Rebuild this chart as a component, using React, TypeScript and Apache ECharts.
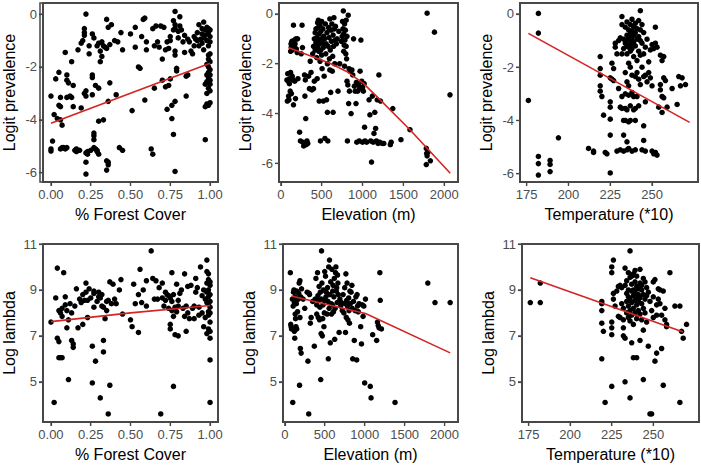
import React, { useEffect, useRef } from "react";
import * as echarts from "echarts";

const forestTicks = [0, 0.25, 0.5, 0.75, 1];
const elevTicks = [0, 500, 1000, 1500, 2000];
const tempTicks = [175, 200, 225, 250];
const logitTicks = [-6, -4, -2, 0];
const lambdaTicks = [5, 7, 9, 11];

const xTitles = ["% Forest Cover", "Elevation (m)", "Temperature (*10)"];
const yTitles = ["Logit prevalence", "Log lambda"];

const forestLogit: number[][] = [
  [0.0,-3.1],[0.0,-5.1],[0.0,-5.18],[0.01,-4.8],[0.02,-3.8],[0.03,-2.45],[0.04,-3.95],[0.05,-2.2],[0.05,-3.45],[0.06,-3.5],
  [0.06,-3.15],[0.06,-4.0],[0.07,-4.2],[0.07,-5.05],[0.06,-5.1],[0.08,-5.05],[0.09,-5.1],[0.1,-5.05],[0.09,-1.45],[0.1,-2.3],
  [0.1,-2.5],[0.11,-2.6],[0.1,-3.15],[0.12,-3.1],[0.13,-3.15],[0.13,-1.8],[0.14,-3.5],[0.14,-2.7],[0.15,-5.15],[0.16,-5.2],
  [0.16,-5.1],[0.17,-1.35],[0.18,-5.15],[0.19,-3.55],[0.19,-1.1],[0.2,-1.0],[0.21,-0.7],[0.21,-0.55],[0.21,-0.8],[0.21,-3.0],
  [0.22,-3.1],[0.22,-2.9],[0.22,0.0],[0.22,-5.25],[0.22,-5.6],[0.22,-6.05],[0.23,-5.3],[0.23,-5.2],[0.24,-1.5],[0.24,-1.2],
  [0.25,-5.15],[0.26,-2.3],[0.26,-2.4],[0.26,-0.75],[0.27,-0.9],[0.26,-3.05],[0.27,-4.6],[0.27,-4.5],[0.27,-4.75],[0.27,-5.05],
  [0.28,-2.7],[0.28,-5.1],[0.29,-5.2],[0.29,-5.15],[0.3,-5.3],[0.29,-1.2],[0.3,-1.1],[0.31,-1.4],[0.31,-1.8],[0.3,-2.8],
  [0.3,-4.05],[0.32,-1.05],[0.32,-1.6],[0.33,-1.2],[0.33,-4.0],[0.34,-1.25],[0.35,-1.3],[0.35,-0.2],[0.36,-0.5],[0.35,-5.55],
  [0.36,-5.6],[0.35,-5.9],[0.36,-5.7],[0.36,-3.3],[0.37,-2.6],[0.37,-1.15],[0.38,-0.4],[0.4,-1.0],[0.41,-3.05],[0.42,-1.05],
  [0.43,-5.05],[0.44,-0.7],[0.45,-1.35],[0.45,-5.15],[0.5,-0.75],[0.51,-3.65],[0.53,-1.25],[0.53,-0.5],[0.55,-2.0],[0.56,-2.05],
  [0.57,-0.85],[0.58,-0.2],[0.59,-0.15],[0.59,-3.25],[0.6,-1.05],[0.6,-1.35],[0.63,-5.1],[0.64,-5.3],[0.64,-0.55],[0.65,-1.2],
  [0.65,-2.8],[0.66,-0.45],[0.67,-1.05],[0.68,-1.25],[0.69,-0.45],[0.7,-2.5],[0.7,-1.7],[0.71,-0.5],[0.72,-1.35],[0.72,-2.75],
  [0.73,-1.05],[0.73,-3.6],[0.74,-2.7],[0.74,-1.3],[0.75,-0.85],[0.75,-1.0],[0.75,-2.45],[0.76,-3.45],[0.76,-3.95],[0.77,-0.6],
  [0.77,-4.55],[0.77,-0.25],[0.78,0.1],[0.78,-0.4],[0.78,-0.55],[0.78,-1.55],[0.78,-1.4],[0.78,-3.3],[0.78,-5.95],[0.79,-2.15],
  [0.79,-2.05],[0.8,-0.9],[0.8,-0.65],[0.81,-0.45],[0.81,-0.1],[0.82,-0.6],[0.83,-1.05],[0.84,-1.45],[0.84,-0.8],[0.85,-2.35],
  [0.85,-3.1],[0.86,-2.3],[0.86,-0.95],[0.87,-1.05],[0.88,-1.4],[0.89,-1.5],[0.9,-0.85],[0.9,-1.2],[0.91,-0.95],[0.92,-0.7],
  [0.92,-1.0],[0.93,-0.4],[0.93,-1.2],[0.94,-0.95],[0.95,-0.55],[0.95,-0.75],[0.95,-1.1],[0.96,-0.3],[0.96,-0.9],[0.96,-1.35],
  [0.97,-0.6],[0.97,-0.8],[0.97,-4.75],[0.97,-2.65],[0.97,-3.5],[0.98,-0.5],[0.98,-1.0],[0.98,-2.3],[0.98,-2.55],[0.98,-3.0],
  [0.98,-3.4],[0.99,-0.55],[0.99,-0.7],[0.99,-1.2],[0.99,-1.55],[0.99,-1.7],[0.99,-2.0],[0.99,-2.2],[0.99,-2.4],[0.99,-2.8],
  [0.99,-3.45],[1.0,-0.6],[1.0,-0.85],[1.0,-1.05],[1.0,-1.5],[1.0,-1.8],[1.0,-2.1],[1.0,-2.5],[1.0,-2.65],[1.0,-2.9],
  [1.0,-3.35],[0.98,-1.9],[1.0,-2.3]
];

const elevLogit: number[][] = [
  [75,-2.65],[80,-3.5],[85,-2.4],[90,-2.7],[95,-3.3],[100,-3.45],[105,-2.8],[110,-2.6],[115,-3.1],[120,-1.5],
  [120,-2.35],[125,-1.2],[130,-1.3],[130,-3.2],[135,-1.1],[140,-1.45],[140,-2.5],[145,-1.25],[150,-1.15],[150,-2.65],
  [155,-0.45],[155,-3.65],[160,-1.3],[165,-1.05],[170,-2.7],[175,-1.2],[180,-3.4],[185,-1.0],[190,-1.4],[200,-1.55],
  [205,-1.0],[210,-2.6],[230,-4.75],[240,-5.1],[250,-1.6],[260,-0.45],[265,-1.35],[270,-5.15],[280,-5.3],[290,-2.45],
  [295,-3.3],[300,-2.65],[305,-4.2],[310,-5.25],[320,-5.1],[330,-5.2],[340,-2.5],[350,-3.0],[360,-1.9],[370,-2.35],
  [380,-3.05],[390,-1.6],[400,-1.3],[400,-3.0],[410,-1.0],[410,-2.7],[420,-0.75],[420,-1.45],[430,-0.6],[430,-1.15],
  [440,-0.95],[440,-1.75],[445,-2.6],[450,-0.35],[450,-1.3],[455,-0.55],[460,-0.25],[460,-1.05],[465,-1.5],[470,-0.8],
  [470,-3.5],[475,-1.2],[480,-0.45],[480,-1.9],[485,-5.1],[490,-0.7],[490,-1.45],[495,-1.0],[500,-1.65],[500,-0.3],
  [505,-2.2],[510,-1.15],[515,-0.6],[520,-1.35],[520,-3.5],[525,-0.9],[530,-2.5],[535,-1.0],[540,-5.0],[545,-0.4],
  [550,-1.6],[555,-1.2],[560,-3.45],[565,-0.75],[570,-2.0],[570,-3.95],[575,-5.1],[580,-1.3],[585,-0.55],[590,-0.95],
  [595,-1.8],[600,-0.2],[600,-2.25],[605,-1.45],[610,-3.15],[615,-0.65],[620,-1.1],[625,-0.4],[630,-2.3],[635,-1.7],
  [640,-0.85],[640,-3.95],[645,-1.3],[650,-0.15],[655,-0.6],[660,-2.0],[665,-1.05],[670,-0.5],[680,-1.2],[690,-1.0],
  [700,-3.1],[710,-0.7],[720,-2.0],[740,-1.1],[750,-0.9],[755,-0.3],[760,-0.6],[765,0.12],[770,-1.5],[770,-0.8],
  [775,-1.25],[780,-0.4],[780,-2.1],[785,-1.05],[790,-0.65],[795,-1.6],[800,-0.25],[800,-1.3],[805,-1.8],[810,-0.9],
  [810,-2.7],[815,-5.1],[820,-2.85],[825,-0.05],[830,-3.6],[835,-2.2],[840,-3.1],[850,-2.3],[860,-4.0],[870,-2.25],
  [880,-2.45],[890,-1.0],[900,-2.9],[910,-3.1],[920,-3.6],[925,-2.75],[930,-5.15],[940,-3.1],[950,-2.85],[960,-5.1],
  [965,-3.0],[970,-2.3],[980,-1.05],[990,-2.7],[1000,-2.95],[1000,-5.15],[1010,-3.1],[1020,-2.8],[1025,-4.55],[1030,-5.1],
  [1050,-5.15],[1080,-3.45],[1090,-4.05],[1100,-5.1],[1110,-5.95],[1120,-3.3],[1130,-5.15],[1140,-4.8],[1150,-3.95],[1160,-4.6],
  [1170,-5.1],[1180,-3.45],[1190,-5.2],[1200,-2.45],[1210,-5.15],[1220,-3.5],[1240,-5.2],[1260,-5.2],[1340,-5.25],[1350,-5.15],
  [1370,-3.8],[1470,-5.05],[1580,-4.65],[1780,-5.4],[1785,-5.6],[1790,-5.7],[1780,-6.05],[1800,-5.55],[1830,-5.9],[1790,0.03],
  [1880,-0.73],[2070,-3.25]
];

const tempLogit: number[][] = [
  [176,-3.25],[182,0.02],[182,-0.72],[182,-5.35],[182,-5.62],[182,-6.05],[189,-5.5],[189,-5.65],[189,-5.92],[194,-4.65],
  [212,-5.05],[215,-5.15],[215,-5.2],[219,-1.6],[219,-2.05],[219,-2.3],[219,-2.7],[219,-2.9],[220,-3.1],[221,-3.8],
  [222,-5.2],[223,-5.25],[225,-2.4],[225,-3.3],[225,-3.5],[225,-3.95],[225,-4.55],[225,-5.97],[226,-2.45],[226,-1.85],
  [227,-2.05],[227,-2.5],[228,-1.1],[228,-1.25],[229,-1.5],[229,-5.15],[230,-1.0],[230,-2.8],[231,-0.9],[231,-3.5],
  [231,-5.1],[232,-0.1],[232,-0.4],[232,-1.5],[232,-3.1],[232,-3.55],[233,-0.95],[233,-1.3],[233,-4.0],[233,-4.55],
  [233,-5.15],[234,-0.5],[234,-1.1],[234,-2.2],[234,-3.0],[234,-3.55],[234,-4.0],[235,-0.3],[235,-0.8],[235,-1.0],
  [235,-1.2],[235,-1.5],[235,-2.55],[235,-3.6],[235,-4.8],[235,-5.1],[236,-0.6],[236,-0.9],[236,-1.25],[236,-1.85],
  [236,-2.7],[236,-3.05],[236,-4.05],[236,-5.05],[237,-0.4],[237,-0.75],[237,-1.0],[237,-1.15],[237,-1.4],[237,-2.0],
  [237,-3.45],[237,-4.0],[238,-0.2],[238,-0.65],[238,-0.9],[238,-1.1],[238,-1.3],[238,-2.3],[238,-2.95],[238,-5.15],
  [239,-0.5],[239,-0.8],[239,-1.05],[239,-1.6],[239,-3.1],[239,-3.6],[240,-0.35],[240,-0.7],[240,-1.2],[240,-2.35],
  [240,-3.55],[240,-4.0],[240,-5.1],[241,-0.55],[241,-0.95],[241,-1.75],[241,-2.2],[241,-3.1],[242,-0.25],[242,-0.85],
  [242,-1.4],[242,-2.45],[242,-3.45],[243,0.12],[243,-0.6],[243,-1.0],[243,-1.55],[243,-2.65],[244,-0.4],[244,-1.1],
  [244,-2.0],[244,-5.1],[245,-0.7],[245,-1.5],[245,-2.35],[245,-4.2],[245,-4.75],[246,-1.25],[246,-2.3],[246,-3.3],
  [246,-5.15],[247,-0.95],[247,-2.55],[248,-2.2],[248,-1.8],[249,-2.4],[249,-1.35],[250,-1.15],[250,-2.7],[250,-5.15],
  [251,-1.3],[251,-5.25],[252,-1.1],[252,-0.5],[252,-5.2],[253,-1.25],[253,-5.3],[254,-3.5],[255,-1.55],[255,-2.65],
  [255,-2.85],[256,-3.1],[256,-3.7],[256,-1.75],[257,-1.6],[257,-2.4],[257,-3.15],[258,-2.5],[259,-3.5],[262,-2.8],
  [265,-3.4],[266,-2.35],[267,-2.7],[268,-2.4],[270,-2.65]
];

const forestLambda: number[][] = [
  [0.0,7.6],[0.02,4.1],[0.03,8.65],[0.04,9.95],[0.04,6.9],[0.05,6.75],[0.05,8.1],[0.05,6.05],[0.06,8.0],[0.06,6.05],
  [0.07,8.2],[0.07,7.85],[0.07,6.05],[0.08,9.75],[0.09,8.7],[0.09,8.35],[0.1,8.1],[0.1,7.35],[0.11,5.1],[0.11,7.7],
  [0.12,8.4],[0.13,6.8],[0.13,8.0],[0.14,6.65],[0.14,6.5],[0.15,8.3],[0.16,9.05],[0.17,7.35],[0.18,8.6],[0.19,8.45],
  [0.2,8.8],[0.2,7.5],[0.21,8.55],[0.22,9.3],[0.22,8.9],[0.23,8.55],[0.23,7.8],[0.24,9.05],[0.25,8.65],[0.26,6.55],
  [0.26,4.95],[0.27,8.95],[0.27,8.85],[0.27,8.25],[0.28,5.9],[0.29,8.5],[0.3,8.9],[0.3,8.7],[0.31,4.3],[0.31,8.65],
  [0.32,8.3],[0.32,8.8],[0.33,6.3],[0.33,8.25],[0.33,6.8],[0.34,7.75],[0.35,8.5],[0.35,8.1],[0.36,8.55],[0.36,3.6],
  [0.37,9.35],[0.37,4.85],[0.38,8.4],[0.39,9.25],[0.4,8.6],[0.41,8.4],[0.43,9.0],[0.44,9.45],[0.45,7.95],[0.5,7.7],
  [0.51,7.4],[0.52,9.25],[0.53,8.4],[0.55,8.8],[0.55,7.15],[0.56,9.9],[0.57,8.45],[0.58,9.0],[0.6,9.4],[0.6,8.3],
  [0.63,10.7],[0.64,9.5],[0.65,8.6],[0.66,9.4],[0.67,8.6],[0.68,9.1],[0.69,3.6],[0.7,9.3],[0.7,8.65],[0.71,8.3],
  [0.72,8.9],[0.72,8.55],[0.73,8.8],[0.74,8.2],[0.74,8.75],[0.75,7.5],[0.75,8.65],[0.75,7.3],[0.76,9.75],[0.76,8.1],
  [0.76,8.5],[0.77,8.8],[0.77,4.8],[0.77,7.85],[0.78,8.25],[0.78,7.05],[0.79,9.25],[0.79,8.05],[0.8,8.55],[0.8,7.0],
  [0.8,8.3],[0.81,8.85],[0.82,9.0],[0.83,8.2],[0.84,7.85],[0.84,9.7],[0.85,7.2],[0.85,8.3],[0.86,9.15],[0.86,8.0],
  [0.87,7.75],[0.88,9.2],[0.89,8.2],[0.9,7.75],[0.9,8.3],[0.91,9.5],[0.91,8.9],[0.92,9.1],[0.93,8.25],[0.93,7.9],
  [0.94,10.0],[0.95,8.75],[0.95,8.0],[0.96,7.4],[0.96,9.0],[0.97,8.6],[0.97,7.8],[0.98,10.3],[0.98,9.8],[0.98,9.3],
  [0.98,8.9],[0.98,7.1],[0.99,9.7],[0.99,9.45],[0.99,9.0],[0.99,8.7],[0.99,8.4],[0.99,7.3],[0.99,7.9],[1.0,9.2],
  [1.0,8.8],[1.0,8.5],[1.0,8.25],[1.0,8.0],[1.0,7.6],[1.0,7.2],[1.0,6.9],[1.0,5.95],[1.0,4.1],[0.99,8.05],
  [0.98,8.45],[1.0,9.35]
];

const elevLambda: number[][] = [
  [70,9.75],[75,7.5],[80,7.4],[85,7.3],[95,8.6],[100,4.1],[105,8.3],[110,8.9],[115,9.0],[120,8.45],
  [120,7.2],[125,6.9],[130,8.7],[130,7.95],[135,7.75],[140,7.4],[145,8.4],[150,8.95],[150,7.3],[155,8.6],
  [160,8.05],[170,8.6],[175,8.85],[180,9.3],[185,4.85],[190,9.4],[190,7.8],[195,6.45],[200,8.7],[205,6.25],
  [210,9.05],[230,8.6],[250,8.2],[280,8.9],[290,5.9],[300,3.6],[305,8.85],[310,8.8],[320,7.55],[330,7.8],
  [350,8.5],[370,6.55],[380,8.6],[390,9.5],[400,8.35],[400,7.95],[410,9.75],[415,8.75],[420,7.8],[425,8.55],
  [430,9.15],[435,7.7],[440,8.25],[445,8.9],[450,5.1],[455,7.1],[460,10.7],[460,8.6],[465,9.3],[470,7.0],
  [475,7.75],[480,8.35],[485,9.0],[490,7.4],[495,8.0],[500,8.55],[500,9.8],[510,9.6],[515,8.7],[520,8.9],
  [530,7.95],[535,9.1],[540,8.5],[545,6.0],[550,10.0],[555,8.2],[560,10.3],[565,8.8],[570,6.7],[575,9.35],
  [580,8.4],[585,7.95],[590,9.9],[595,8.35],[600,8.95],[605,9.2],[610,8.05],[615,8.7],[620,9.5],[625,6.85],
  [630,8.2],[635,9.75],[640,10.0],[645,8.95],[650,9.1],[655,8.45],[660,9.65],[665,9.3],[670,8.8],[680,7.15],
  [690,8.6],[700,8.3],[710,8.45],[720,8.1],[730,8.8],[740,8.0],[750,9.1],[755,8.4],[760,7.15],[765,9.7],
  [770,7.8],[775,8.55],[780,9.3],[785,8.3],[790,7.7],[800,8.65],[805,8.1],[810,7.55],[815,8.95],[820,8.4],
  [830,8.9],[840,9.2],[845,8.2],[850,6.0],[860,8.5],[870,6.8],[880,8.1],[890,8.7],[900,5.95],[905,8.8],
  [910,8.3],[920,8.05],[930,8.4],[950,7.4],[960,6.65],[970,8.35],[980,7.85],[990,8.3],[1000,4.95],[1010,8.6],
  [1070,4.8],[1080,4.3],[1100,7.05],[1150,6.8],[1160,7.6],[1170,7.45],[1180,7.35],[1190,9.75],[1195,8.55],[1210,7.3],
  [1380,4.1],[1790,9.3],[1880,8.45],[2070,8.45]
];

const tempLambda: number[][] = [
  [176,8.45],[182,9.3],[182,8.45],[219,8.4],[219,8.5],[219,8.1],[219,7.55],[219,6.0],[220,7.2],[221,4.1],
  [225,9.75],[225,10.0],[225,7.6],[225,7.35],[225,7.05],[225,4.8],[226,10.3],[226,8.6],[226,8.85],[227,8.3],
  [228,8.95],[229,9.15],[229,7.85],[230,9.2],[230,7.8],[231,8.4],[231,9.1],[232,8.2],[232,7.7],[232,7.35],
  [232,7.0],[233,9.95],[233,9.2],[233,6.9],[233,5.0],[234,8.85],[234,8.5],[234,8.0],[234,9.4],[235,9.0],
  [235,8.7],[235,8.3],[235,7.8],[235,9.75],[236,10.7],[236,9.55],[236,8.6],[236,8.1],[236,7.65],[236,4.3],
  [237,9.25],[237,8.95],[237,8.45],[237,7.9],[237,6.7],[238,9.7],[238,9.0],[238,8.75],[238,8.2],[238,7.5],
  [238,6.05],[239,9.35],[239,8.9],[239,8.55],[239,8.0],[240,9.6],[240,9.15],[240,8.7],[240,8.35],[240,7.75],
  [240,6.05],[241,9.05],[241,8.8],[241,8.5],[241,8.1],[242,9.9],[242,9.3],[242,8.65],[242,7.95],[242,6.8],
  [243,9.0],[243,8.4],[243,7.7],[243,9.2],[244,8.8],[244,8.2],[244,7.25],[244,5.1],[245,9.35],[245,8.6],
  [245,8.0],[246,8.75],[246,7.6],[247,6.55],[247,8.9],[248,8.5],[248,3.6],[249,3.6],[249,8.1],[250,8.7],
  [250,7.8],[250,9.35],[251,9.45],[251,5.9],[252,8.35],[252,7.9],[252,6.25],[253,9.05],[253,8.6],[254,9.0],
  [254,8.4],[255,6.45],[255,7.9],[256,4.85],[256,8.95],[257,7.7],[257,8.2],[258,7.4],[258,7.5],[260,9.75],
  [263,8.3],[266,8.3],[266,4.1],[267,7.2],[268,6.9],[270,7.5],[246,9.1],[244,9.5],[239,9.85],[237,9.6]
];

const forestLogitFit: number[][] = [[0, -4.13], [1, -1.86]];
const elevLogitFit: number[][] = [[90, -1.35], [600, -1.98], [800, -2.3], [1010, -2.79], [1200, -3.4], [1583, -4.66], [2073, -6.4]];
const tempLogitFit: number[][] = [[176, -0.73], [272.5, -4.07]];
const forestLambdaFit: number[][] = [[0, 7.62], [0.5, 8.0], [1, 8.32]];
const elevLambdaFit: number[][] = [[85, 8.74], [500, 8.39], [1011, 7.97], [2070, 6.26]];
const tempLambdaFit: number[][] = [[176, 9.53], [268, 7.17]];

const FONT = "Liberation Sans, Arial, sans-serif";
const FRAME = "#474747";

export default function App() {
  const ref = useRef<HTMLDivElement>(null);
  useEffect(() => {
    if (!ref.current) return;
    const chart = echarts.init(ref.current, undefined, { renderer: "svg" });

    const boxes = [
      { left: 40, top: 3, width: 178, height: 179 },
      { left: 279, top: 3, width: 179, height: 179 },
      { left: 520, top: 3, width: 178, height: 179 },
      { left: 43, top: 244, width: 175, height: 178 },
      { left: 283, top: 244, width: 175, height: 178 },
      { left: 522, top: 244, width: 177, height: 178 },
    ];
    const grids = boxes.map((g) => ({ ...g, show: true, borderColor: FRAME, borderWidth: 1.5, backgroundColor: "rgba(0,0,0,0)" }));

    const xCfg = [
      { min: -0.05, max: 1.05, ticks: forestTicks, fmt: (v: number) => v.toFixed(2), title: xTitles[0] },
      { min: -22, max: 2168, ticks: elevTicks, fmt: (v: number) => String(v), title: xTitles[1] },
      { min: 171, max: 277.5, ticks: tempTicks, fmt: (v: number) => String(v), title: xTitles[2] },
    ];
    const yCfg = [
      { min: -6.35, max: 0.42, ticks: logitTicks, title: yTitles[0] },
      { min: -6.75, max: 0.44, ticks: logitTicks, title: yTitles[0] },
      { min: -6.31, max: 0.41, ticks: logitTicks, title: yTitles[0] },
      { min: 3.25, max: 11.0, ticks: lambdaTicks, title: yTitles[1] },
      { min: 3.25, max: 11.0, ticks: lambdaTicks, title: yTitles[1] },
      { min: 3.25, max: 11.0, ticks: lambdaTicks, title: yTitles[1] },
    ];

    const xAxis: any[] = [];
    const yAxis: any[] = [];
    grids.forEach((_, i) => {
      const c = xCfg[i % 3];
      xAxis.push({
        type: "value",
        gridIndex: i,
        position: "bottom",
        min: c.min,
        max: c.max,
        name: c.title,
        nameLocation: "middle",
        nameGap: 24,
        nameTextStyle: { fontSize: 16, color: "#000", fontFamily: FONT },
        axisLine: { show: true, onZero: false, lineStyle: { color: FRAME, width: 1.5 } },
        splitLine: { show: false },
        axisTick: { show: true, inside: false, length: 4, customValues: c.ticks, lineStyle: { color: FRAME, width: 1.2 } },
        axisLabel: { customValues: c.ticks, formatter: c.fmt, color: "#4d4d4d", fontSize: 13, margin: 6, fontFamily: FONT },
      });
      const y = yCfg[i];
      yAxis.push({
        type: "value",
        gridIndex: i,
        position: "left",
        min: y.min,
        max: y.max,
        name: y.title,
        nameLocation: "middle",
        nameGap: 26,
        nameTextStyle: { fontSize: 16, color: "#000", fontFamily: FONT },
        axisLine: { show: true, onZero: false, lineStyle: { color: FRAME, width: 1.5 } },
        splitLine: { show: false },
        axisTick: { show: true, inside: false, length: 4, customValues: y.ticks, lineStyle: { color: FRAME, width: 1.2 } },
        axisLabel: { customValues: y.ticks, color: "#4d4d4d", fontSize: 13, margin: 6, fontFamily: FONT },
      });
    });

    const pts = [forestLogit, elevLogit, tempLogit, forestLambda, elevLambda, tempLambda];
    const fits = [forestLogitFit, elevLogitFit, tempLogitFit, forestLambdaFit, elevLambdaFit, tempLambdaFit];
    const series: any[] = [];

    // frames and ticks as filled slivers, placed through each panel's own scales
    grids.forEach((_, i) => {
      const c = xCfg[i % 3];
      const y = yCfg[i];
      series.push({
        type: "custom",
        xAxisIndex: i,
        yAxisIndex: i,
        data: [[c.min, y.min]],
        clip: false,
        silent: true,
        z: 5,
        renderItem: (_p: any, api: any) => {
          const bl = api.coord([c.min, y.min]);
          const tr = api.coord([c.max, y.max]);
          const w = 1.5;
          const st = { fill: FRAME, stroke: null };
          const kids: any[] = [
            { type: "rect", shape: { x: bl[0] - w / 2, y: tr[1] - w / 2, width: w, height: bl[1] - tr[1] + w }, style: st },
            { type: "rect", shape: { x: tr[0] - w / 2, y: tr[1] - w / 2, width: w, height: bl[1] - tr[1] + w }, style: st },
            { type: "rect", shape: { x: bl[0] - w / 2, y: tr[1] - w / 2, width: tr[0] - bl[0] + w, height: w }, style: st },
            { type: "rect", shape: { x: bl[0] - w / 2, y: bl[1] - w / 2, width: tr[0] - bl[0] + w, height: w }, style: st },
          ];
          c.ticks.forEach((v) => {
            const p = api.coord([v, y.min]);
            kids.push({ type: "rect", shape: { x: p[0] - 0.6, y: p[1], width: 1.2, height: 4 }, style: st });
          });
          y.ticks.forEach((v) => {
            const p = api.coord([c.min, v]);
            kids.push({ type: "rect", shape: { x: p[0] - 4, y: p[1] - 0.6, width: 4, height: 1.2 }, style: st });
          });
          return { type: "group", children: kids };
        },
      });
    });

    pts.forEach((d, i) => {
      series.push({
        type: "scatter",
        xAxisIndex: i,
        yAxisIndex: i,
        data: d,
        symbolSize: 5.5,
        itemStyle: { color: "#000", opacity: 1 },
        z: 2,
      });
    });
    fits.forEach((d, i) => {
      series.push({
        type: "line",
        xAxisIndex: i,
        yAxisIndex: i,
        data: d,
        showSymbol: false,
        symbol: "none",
        smooth: false,
        lineStyle: { color: "#d42424", width: 1.6 },
        z: 3,
      });
    });

    // additional frame outlines from the graphic component
    const frameEls = boxes.map((g) => ({
      type: "rect",
      shape: { x: g.left, y: g.top, width: g.width, height: g.height },
      style: { fill: null, stroke: FRAME, lineWidth: 1.5 },
      silent: true,
      z: 60,
    }));

    chart.setOption({
      animation: false,
      textStyle: { fontFamily: FONT },
      grid: grids,
      xAxis,
      yAxis,
      series,
      graphic: frameEls,
    });

    return () => chart.dispose();
  }, []);

  return <div ref={ref} style={{ width: 701, height: 467, position: "absolute", left: 0, top: 0 }} />;
}
